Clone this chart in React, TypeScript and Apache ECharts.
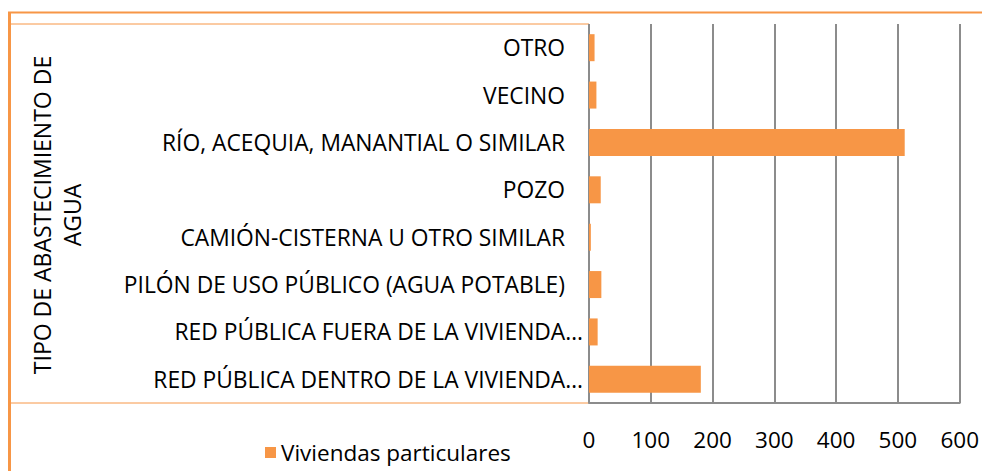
import React, { useEffect, useRef } from "react";
import * as echarts from "echarts";

const categories = [
  "RED PÚBLICA DENTRO DE LA VIVIENDA…",
  "RED PÚBLICA FUERA DE LA VIVIENDA…",
  "PILÓN DE USO PÚBLICO (AGUA POTABLE)",
  "CAMIÓN-CISTERNA U OTRO SIMILAR",
  "POZO",
  "RÍO, ACEQUIA, MANANTIAL O SIMILAR",
  "VECINO",
  "OTRO",
];
const seriesName = "Viviendas particulares";
const values = [181, 14, 20, 3, 19, 511, 12, 9];
const axisTitle = "TIPO DE ABASTECIMIENTO DE\nAGUA";

const FONT = "Open Sans";
const ORANGE = "#F79646";

export default function App() {
  const ref = useRef<HTMLDivElement>(null);
  useEffect(() => {
    if (!ref.current) return;
    const chart = echarts.init(ref.current, null, { renderer: "svg" });
    chart.setOption({
      animation: false,
      textStyle: { fontFamily: FONT },
      grid: { left: 589, right: 22, top: 24, bottom: 68, containLabel: false },
      legend: {
        data: [seriesName],
        left: 260,
        top: 436,
        icon: "rect",
        itemWidth: 11,
        itemHeight: 11,
        itemGap: 6,
        textStyle: { fontFamily: FONT, fontSize: 22.5, color: "#000" },
      },
      xAxis: {
        type: "value",
        min: 0,
        max: 600,
        interval: 100,
        axisLine: { show: true, lineStyle: { color: "#8c8c8c", width: 2 } },
        axisTick: { show: false },
        splitLine: { show: true, lineStyle: { color: "#8c8c8c", width: 2 } },
        axisLabel: { margin: 25, fontFamily: FONT, fontSize: 22.5, color: "#000" },
      },
      yAxis: {
        type: "category",
        data: categories,
        axisLine: { show: false },
        axisTick: { show: false },
        axisLabel: {
          margin: 6,
          fontFamily: FONT,
          fontSize: 22.8,
          color: "#000",
          formatter: (v: string) => (v.endsWith("…") ? `{e|${v}}` : `{n|${v}}`),
          rich: {
            n: { fontFamily: FONT, fontSize: 22.8, color: "#000", padding: [0, 18, 0, 0] },
            e: { fontFamily: FONT, fontSize: 22.8, color: "#000" },
          },
        },
      },
      series: [
        {
          name: seriesName,
          type: "bar",
          data: values,
          barCategoryGap: "43%",
          itemStyle: { color: ORANGE },
        },
      ],
      graphic: [
        { type: "line", shape: { x1: 9.5, y1: 12, x2: 9.5, y2: 471 }, style: { stroke: ORANGE, lineWidth: 3 } },
        { type: "line", shape: { x1: 8, y1: 12.5, x2: 982, y2: 12.5 }, style: { stroke: ORANGE, lineWidth: 2 } },
        { type: "line", shape: { x1: 11, y1: 24, x2: 589, y2: 24 }, style: { stroke: ORANGE, lineWidth: 1 } },
        { type: "line", shape: { x1: 11, y1: 403, x2: 589, y2: 403 }, style: { stroke: ORANGE, lineWidth: 1 } },
        { type: "line", shape: { x1: 589, y1: 24, x2: 589, y2: 403 }, style: { stroke: ORANGE, lineWidth: 1.5 } },
        {
          type: "text",
          x: 57,
          y: 215,
          rotation: Math.PI / 2,
          style: {
            text: axisTitle,
            fontFamily: FONT,
            fontSize: 23,
            lineHeight: 30,
            fill: "#000",
            textAlign: "center",
            textVerticalAlign: "middle",
          },
        },
      ],
    });
    return () => chart.dispose();
  }, []);
  return <div ref={ref} style={{ width: 982, height: 471, position: "absolute", left: 0, top: 0 }} />;
}
